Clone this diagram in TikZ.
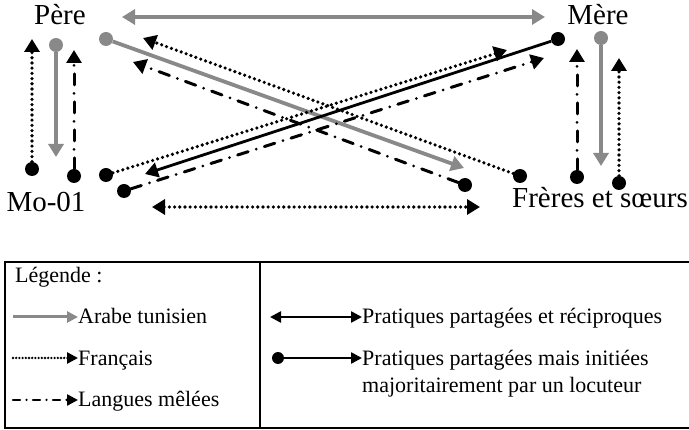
\documentclass[tikz,border=0pt]{standalone}
\usepackage{fontspec}
\setmainfont{Liberation Serif}
\usetikzlibrary{arrows.meta}
\definecolor{arabe}{RGB}{137,137,137}

\begin{document}
\begin{tikzpicture}[x=1pt, y=-1pt,
	every node/.style={inner sep=0pt},
	dot/.style={circle, fill=black, minimum size=14pt},
	grisdot/.style={dot, fill=arabe},
	lab/.style={font=\fontsize{29}{34}\selectfont, anchor=base},
	leg/.style={font=\fontsize{22}{27}\selectfont, anchor=base west, align=left},
	ar/.style={draw=arabe, line width=3.8pt},
	fr/.style={line width=3.6pt, line cap=round, dash pattern=on 0pt off 5.2pt},
	mix/.style={line width=3pt, line cap=round, dash pattern=on 11pt off 8.5pt on 0pt off 8.5pt},
	plein/.style={line width=2.8pt},
	cadre/.style={line width=1.4pt},
	lt/.style={-{Triangle[length=11pt,width=11pt]}},
	>={Triangle[length=13pt,width=15pt]}]

	\useasboundingbox (0,0) rectangle (689,430);

	\node[lab] (pere) at (60,25) {Père};
	\node[lab] (mere) at (598,25) {Mère};
	\node[lab] (mo) at (46,212) {Mo-01};
	\node[lab] (freres) at (600,208) {Frères et sœurs};

	\coordinate (pm1) at (122,17);
	\coordinate (pm2) at (545,17);
	\draw[ar, <->] (pm1) -- (pm2);

	% Mo-01 et parents
	\node[dot] (d1) at (32,169) {};
	\node[grisdot] (d2) at (56,45) {};
	\node[dot] (d3) at (74,176) {};
	\coordinate (t1) at (32,39);
	\coordinate (t2) at (56,157);
	\coordinate (t3) at (74,50);
	\draw[fr, ->] (d1) -- (t1);
	\draw[ar, ->] (d2) -- (t2);
	\draw[mix, ->] (d3) -- (t3);

	% Mère et fratrie
	\node[dot] (d4) at (577,177) {};
	\node[grisdot] (d5) at (601,38) {};
	\node[dot] (d6) at (619,183) {};
	\coordinate (t4) at (577,49);
	\coordinate (t5) at (601,166);
	\coordinate (t6) at (619,58);
	\draw[mix, ->] (d4) -- (t4);
	\draw[ar, ->] (d5) -- (t5);
	\draw[fr, ->] (d6) -- (t6);

	% diagonales
	\node[grisdot] (d7) at (106,39) {};
	\node[dot] (d8) at (520,176) {};
	\node[dot] (d9) at (465,185) {};
	\node[dot] (d10) at (558,39) {};
	\node[dot] (d11) at (106,175) {};
	\node[dot] (d12) at (124,191) {};
	\coordinate (t7) at (464,168);
	\coordinate (t8) at (143,38);
	\coordinate (t9) at (133,62);
	\coordinate (t10) at (145,174);
	\coordinate (t11) at (507,50);
	\coordinate (t12) at (544,58);
	\draw[ar, ->] (d7) -- (t7);
	\draw[fr, ->] (d8) -- (t8);
	\draw[mix, ->] (d9) -- (t9);
	\draw[plein, ->] (d10) -- (t10);
	\draw[fr, ->] (d11) -- (t11);
	\draw[mix, ->] (d12) -- (t12);

	\coordinate (mf1) at (152,207);
	\coordinate (mf2) at (480,207);
	\draw[fr, <->] (mf1) -- (mf2);

	% legende
	\draw[cadre] (689,262) -- (5,262) -- (5,428) -- (689,428);
	\draw[cadre] (260,262) -- (260,428);

	\node[leg] (titre) at (15,283) {Légende :};
	\node[leg] (l1) at (78,324) {Arabe tunisien};
	\node[leg] (l2) at (78,366) {Français};
	\node[leg] (l3) at (78,407) {Langues mêlées};
	\node[leg] (l4) at (362,324) {Pratiques partagées et réciproques};
	\node[leg] (l5) at (362,393) {Pratiques partagées mais initiées\\majoritairement par un locuteur};

	\coordinate (c1) at (13,317);
	\coordinate (c2) at (13,358);
	\coordinate (c3) at (13,400);
	\coordinate (c4) at (270,317);
	\node[dot, minimum size=12pt] (d13) at (278,358) {};

	\draw[ar, line width=3pt, lt] (c1) -- (c1 -| l1.west);
	\draw[lt, line width=2.6pt, line cap=round, dash pattern=on 0pt off 3.2pt] (c2) -- (c2 -| l2.west);
	\draw[lt, line width=2.5pt, line cap=round, dash pattern=on 7pt off 6.5pt on 0pt off 6.5pt] (c3) -- (c3 -| l3.west);
	\draw[line width=2.5pt, {Triangle[length=11pt,width=11pt]}-{Triangle[length=11pt,width=11pt]}] (c4) -- (c4 -| l4.west);
	\draw[line width=2.5pt, lt] (d13) -- (d13 -| l5.west);

\end{tikzpicture}
\end{document}
